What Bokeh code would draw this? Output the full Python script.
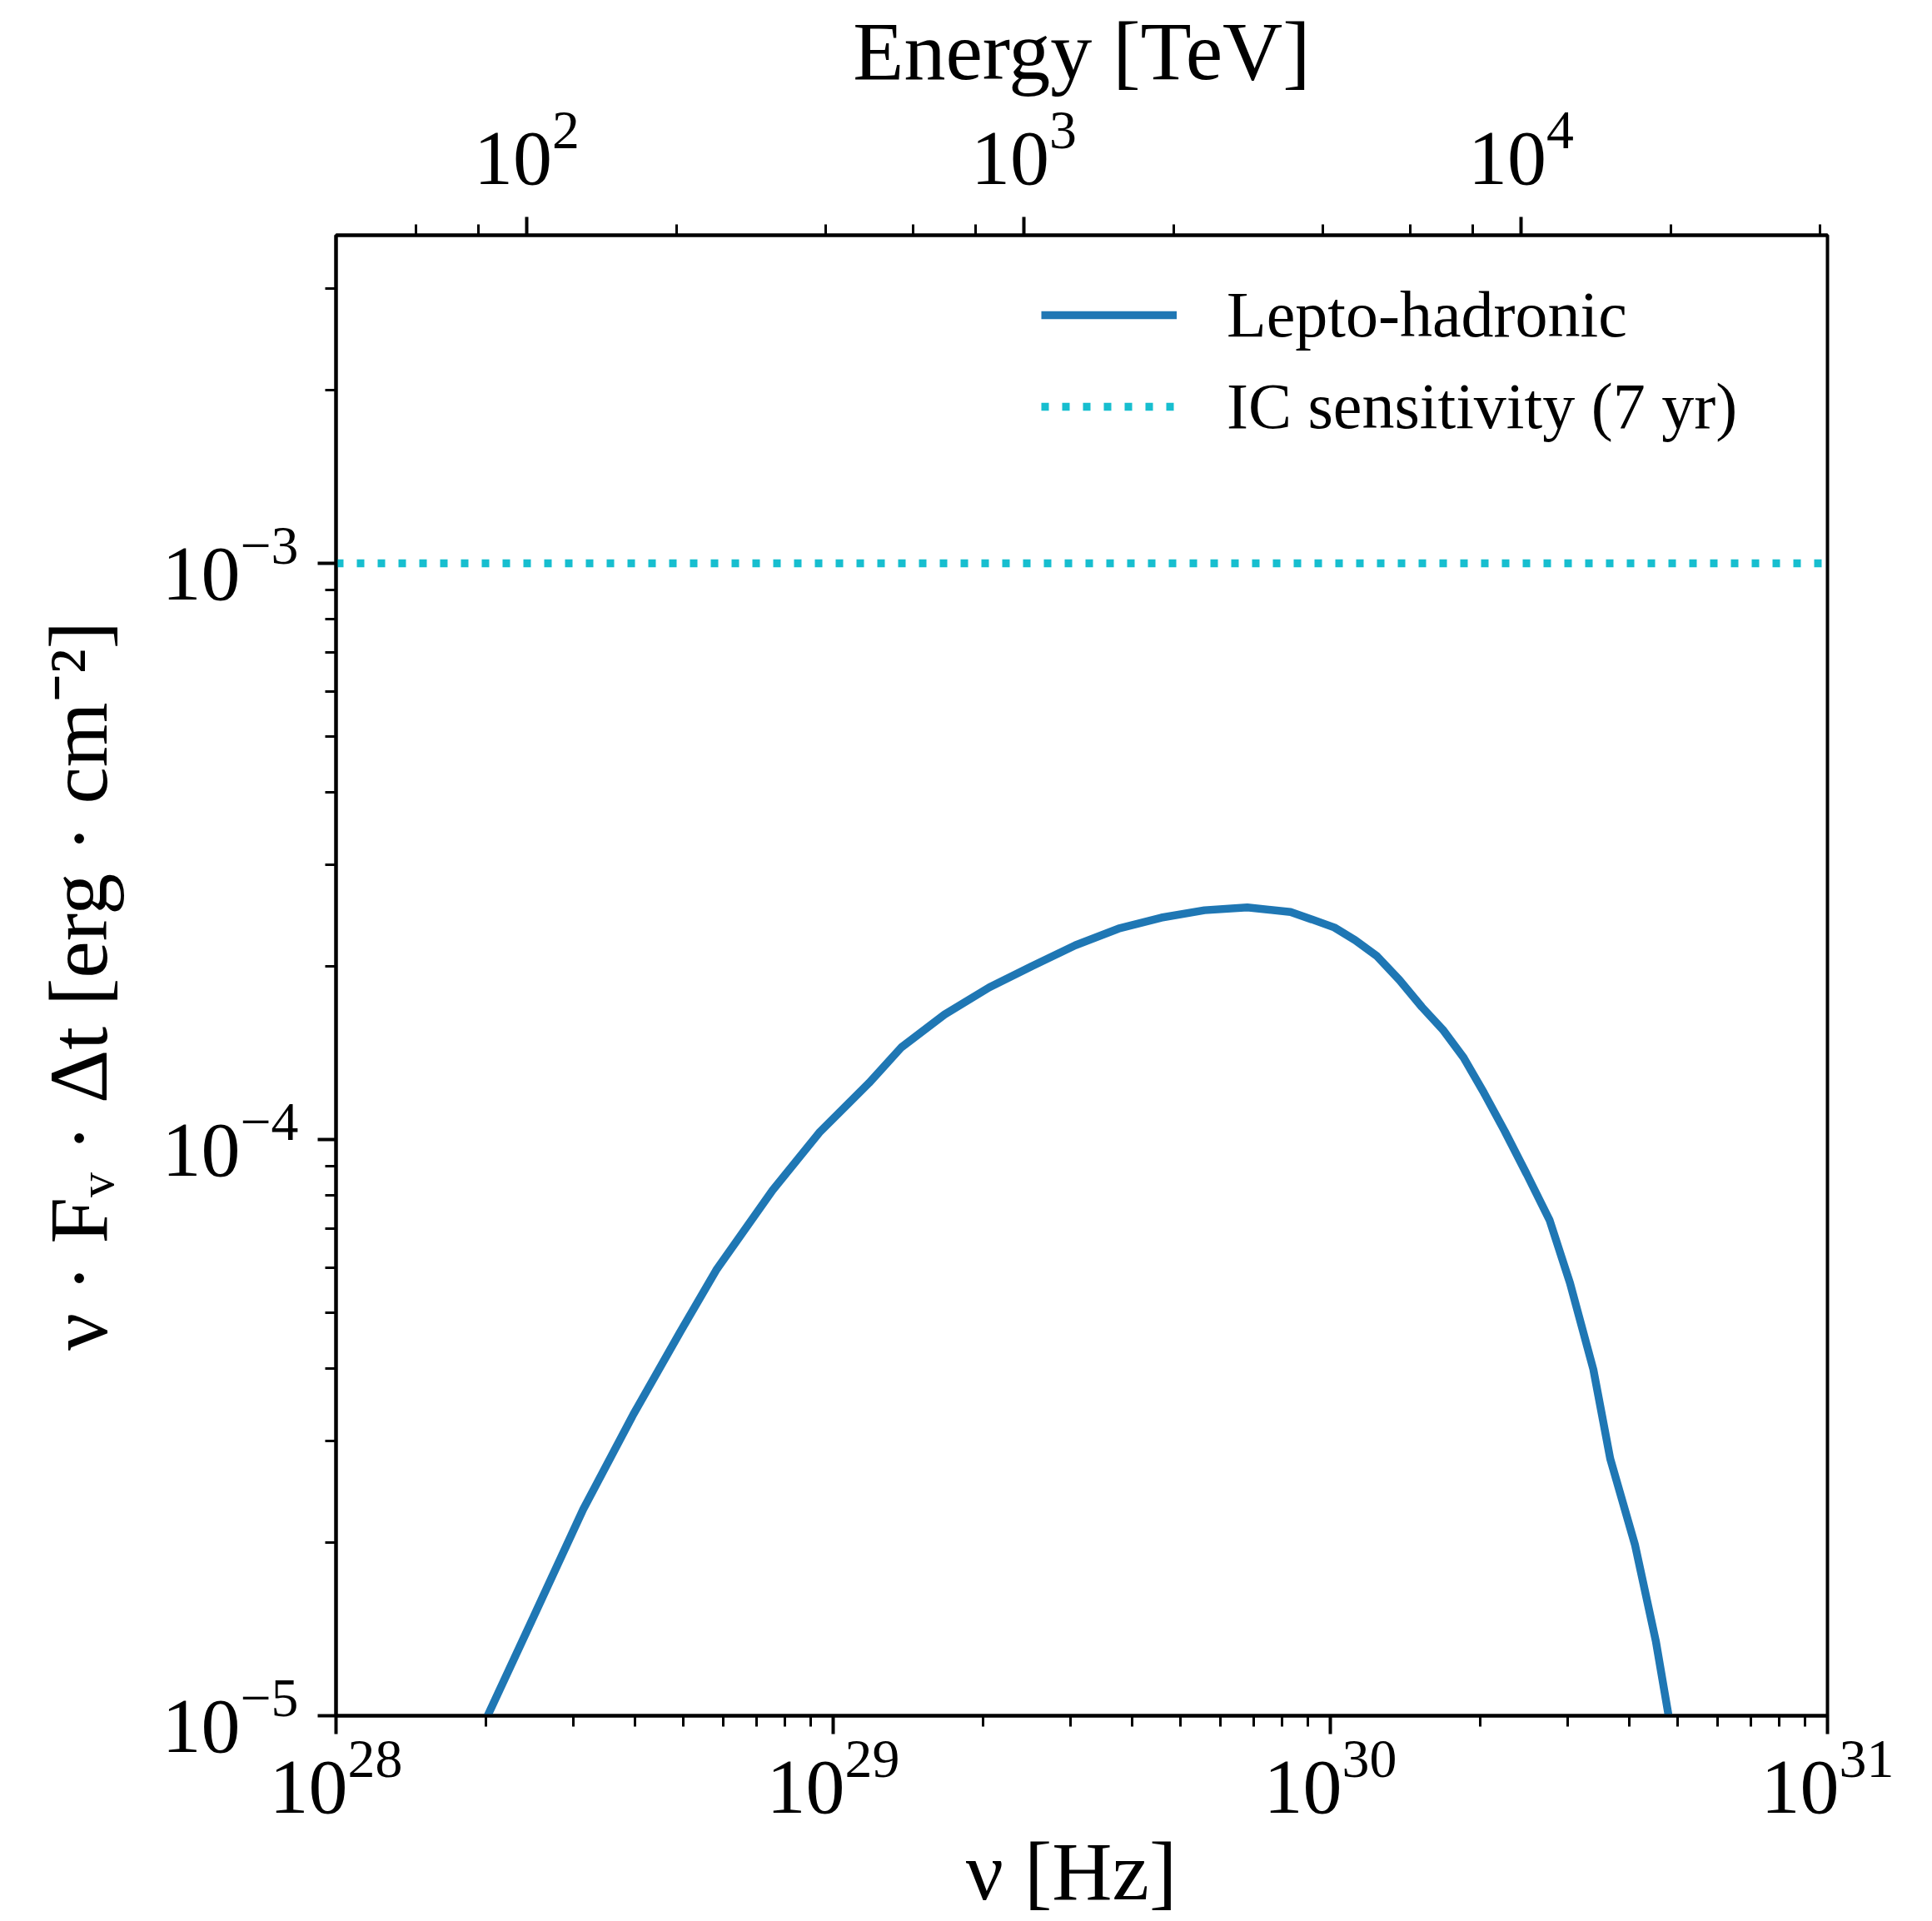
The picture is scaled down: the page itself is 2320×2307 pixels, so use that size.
from bokeh.plotting import figure
from bokeh.models import LogAxis, Range1d, LogScale, Legend, LegendItem
from bokeh.embed import file_html
from bokeh.resources import INLINE

# ---- data ----
nu_hz = [2.018e28, 2.495e28, 3.141e28, 3.963e28, 4.932e28, 5.834e28, 7.551e28, 9.376e28,
         1.180e29, 1.371e29, 1.675e29, 2.061e29, 2.512e29, 3.069e29, 3.750e29, 4.571e29,
         5.585e29, 6.808e29, 8.318e29, 9.183e29, 1.019e30, 1.122e30, 1.242e30, 1.377e30,
         1.528e30, 1.683e30, 1.854e30, 2.037e30, 2.244e30, 2.483e30, 2.761e30, 3.034e30,
         3.381e30, 3.656e30, 4.102e30, 4.519e30, 4.786e30]
flux = [1.000e-5, 1.483e-5, 2.280e-5, 3.334e-5, 4.645e-5, 5.957e-5, 8.166e-5, 1.028e-4,
        1.253e-4, 1.445e-4, 1.648e-4, 1.837e-4, 2.000e-4, 2.173e-4, 2.323e-4, 2.427e-4,
        2.500e-4, 2.529e-4, 2.483e-4, 2.410e-4, 2.333e-4, 2.218e-4, 2.080e-4, 1.892e-4,
        1.698e-4, 1.552e-4, 1.387e-4, 1.205e-4, 1.033e-4, 8.710e-5, 7.244e-5, 5.636e-5,
        3.990e-5, 2.793e-5, 1.977e-5, 1.343e-5, 1.005e-5]
sens_nu = [1e28, 1e31]
sens_flux = [1.0e-3, 1.0e-3]
series_labels = ["Lepto-hadronic", "IC sensitivity (7 yr)"]
nu_range = (1e28, 1e31)
flux_range = (1e-5, 3.71e-3)
h_tev_s = 4.135667696e-27  # Planck constant in TeV*s
energy_range = (nu_range[0] * h_tev_s, nu_range[1] * h_tev_s)

FONT = "Liberation Serif"

p = figure(x_axis_type="log", y_axis_type="log",
           x_range=Range1d(*nu_range), y_range=Range1d(*flux_range),
           frame_width=1791, frame_height=1778,
           min_border_left=403, min_border_top=282, min_border_right=118, min_border_bottom=240,
           output_backend="svg", toolbar_location=None,
           background_fill_color="white", border_fill_color="white")
p.grid.visible = False
p.outline_line_color = "black"
p.outline_line_width = 4
p.outline_line_alpha = 1.0

p.extra_x_ranges = {"energy": Range1d(*energy_range)}
p.extra_x_scales = {"energy": LogScale()}
top = LogAxis(x_range_name="energy", axis_label="Energy [TeV]")
p.add_layout(top, "above")

bottom = p.below[0]
left = p.left[0]
bottom.axis_label = "ν  [Hz]"
left.axis_label = "ν · Fᵥ · Δt  [erg · cm⁻²]"

for ax in [bottom, left, top]:
    ax.axis_line_width = 4
    ax.axis_line_color = "black"
    ax.major_tick_line_width = 4
    ax.minor_tick_line_width = 3
    ax.major_tick_out = 22
    ax.major_tick_in = 0
    ax.minor_tick_out = 13
    ax.minor_tick_in = 0
    ax.major_label_text_font = FONT
    ax.major_label_text_font_size = "94px"
    ax.major_label_text_color = "black"
    ax.axis_label_text_font = FONT
    ax.axis_label_text_font_size = "100px"
    ax.axis_label_text_font_style = "normal"
    ax.axis_label_text_color = "black"

left.major_label_standoff = 23
left.axis_label_standoff = 41
top.major_label_standoff = 40
top.axis_label_standoff = 15
bottom.major_label_standoff = 8
bottom.axis_label_standoff = 12

r1 = p.line(nu_hz, flux, line_color="#1f77b4", line_width=9.5)
r2 = p.line(sens_nu, sens_flux, line_color="#17becf", line_width=9.5, line_dash="9 16")

legend = Legend(items=[LegendItem(label=series_labels[0], renderers=[r1]),
                       LegendItem(label=series_labels[1], renderers=[r2])],
                location=(847, 1517), border_line_alpha=0, background_fill_alpha=0,
                padding=0, margin=0, spacing=0, glyph_width=163, glyph_height=110,
                label_height=110, label_standoff=60,
                label_text_font=FONT, label_text_font_size="78px", label_text_color="black")
p.add_layout(legend)

open("out.html", "w").write(file_html(p, INLINE, "plot"))
